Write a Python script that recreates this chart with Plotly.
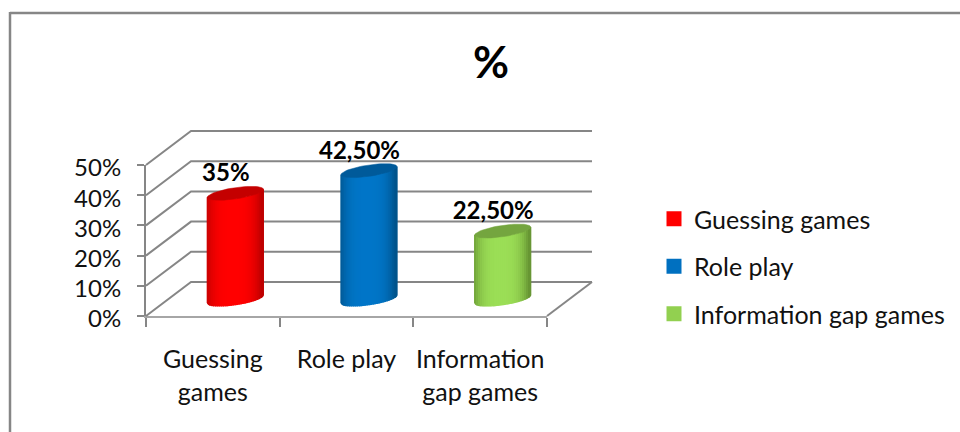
import math
import plotly.graph_objects as go

categories = ["Guessing games", "Role play", "Information gap games"]
category_ticks = ["Guessing<br>games", "Role play", "Information<br>gap games"]
values = [35, 42.5, 22.5]
value_labels = ["35%", "42,50%", "22,50%"]
y_ticks = [0, 10, 20, 30, 40, 50]
y_tick_labels = ["0%", "10%", "20%", "30%", "40%", "50%"]

# edge, centre and lid colours of each cylinder
edge_colors = [(190, 0, 0), (0, 84, 140), (104, 150, 52)]
centre_colors = [(255, 0, 0), (0, 118, 200), (155, 222, 86)]
lid_colors = ["#c40000", "#005a9a", "#74a53f"]
legend_colors = ["#ff0000", "#0070c0", "#92d050"]

W, H = 960, 432
X0, X1, Y0, Y50 = 146, 547, 316, 165
ux = (X1 - X0) / 3
uy = (Y0 - Y50) / 50
DX = 45 / ux         # depth offset in category units
DY = 34 / uy         # depth offset in percent units
A = 28 / ux          # cylinder half width
B = 5.7 / uy         # ellipse half height
T = 4 / uy           # ellipse tilt
GRID = "#868686"

fig = go.Figure()

# visible axes (trace is only there to anchor them)
fig.add_trace(go.Scatter(x=[0.5], y=[0], mode="markers", opacity=0, showlegend=False,
                         hoverinfo="skip", xaxis="x", yaxis="y"))

# walls and floor
gx, gy = [], []
for t in y_ticks:
    gx += [0, DX, 3 + DX, None]
    gy += [t, t + DY, t + DY, None]
gx += [3, 3 + DX, None]
gy += [0, DY, None]
fig.add_trace(go.Scatter(x=gx, y=gy, mode="lines", line=dict(color=GRID, width=2),
                         showlegend=False, hoverinfo="skip", xaxis="x2", yaxis="y2"))


def arc(cx, cy, us):
    return [cx + A * u for u in us], [cy + T * u - B * math.sqrt(max(0, 1 - u * u)) for u in us]


# legend swatches sit hidden behind the cylinders
for i, name in enumerate(categories):
    cx = i + 0.5 + DX / 2
    fig.add_trace(go.Scatter(x=[cx], y=[values[i] / 2 + DY / 2], mode="markers", name=name,
                             legendgroup=name,
                             marker=dict(symbol="square", size=15, color=legend_colors[i]),
                             hoverinfo="skip", xaxis="x2", yaxis="y2"))

# cylinders
N = 28
for i, v in enumerate(values):
    cx = i + 0.5 + DX / 2
    base = DY / 2
    top = base + v
    for k in range(N):
        u0 = -1 + 2 * k / N
        u1 = -1 + 2 * (k + 1) / N
        um = (u0 + u1) / 2
        s = max(0.0, 1 - abs(um + 0.05) ** 3.2)
        c = tuple(round(e + (m - e) * s) for e, m in zip(edge_colors[i], centre_colors[i]))
        col = f"rgb{c}"
        us = [u0 + (u1 - u0) * j / 3 for j in range(4)]
        bx, by = arc(cx, base, us)
        tx, ty = arc(cx, top, us[::-1])
        fig.add_trace(go.Scatter(x=bx + tx + bx[:1], y=by + ty + by[:1], mode="lines", fill="toself",
                                 fillcolor=col, line=dict(color=col, width=1.3),
                                 showlegend=False, hoverinfo="skip", xaxis="x2", yaxis="y2"))
    ang = [2 * math.pi * j / 60 for j in range(61)]
    fig.add_trace(go.Scatter(x=[cx + A * math.cos(a) for a in ang],
                             y=[top + T * math.cos(a) + B * math.sin(a) for a in ang],
                             mode="lines", fill="toself", fillcolor=lid_colors[i],
                             line=dict(color=lid_colors[i], width=0.5),
                             showlegend=False, hoverinfo="skip", xaxis="x2", yaxis="y2"))

# data labels
fig.add_trace(go.Scatter(x=[i + 0.5 + 13 / ux for i in range(3)],
                         y=[v + DY / 2 + 6 / uy for v in values],
                         mode="text", text=value_labels, textposition="top center",
                         textfont=dict(family="Lato", size=24, color="black", weight="bold"),
                         showlegend=False, hoverinfo="skip", xaxis="x2", yaxis="y2"))

axis_font = dict(family="Lato", size=24, color="#111111")
fig.update_layout(
    width=W, height=H, autosize=False,
    margin=dict(l=0, r=0, t=0, b=0, autoexpand=False),
    paper_bgcolor="white", plot_bgcolor="rgba(0,0,0,0)",
    title=dict(text="<b>%</b>", x=491 / W, xanchor="center", y=1 - 63 / H, yanchor="middle",
               font=dict(family="Lato", size=44, color="black")),
    xaxis=dict(domain=[X0 / W, X1 / W], range=[0, 3], tickmode="array",
               tickvals=[0.5, 1.5, 2.5], ticktext=category_ticks, ticks="",
               ticklabelstandoff=20, tickfont=dict(axis_font, size=25), showgrid=False, zeroline=False,
               showline=True, linecolor="#a6a6a6", linewidth=2,
               minor=dict(tickmode="array", tickvals=[0, 1, 2, 3], ticks="outside",
                          ticklen=9, tickwidth=2, tickcolor=GRID, showgrid=False)),
    yaxis=dict(domain=[(H - Y0) / H, (H - Y50) / H], range=[0, 50], tickmode="array",
               tickvals=y_ticks, ticktext=y_tick_labels, ticks="outside", ticklen=7,
               ticklabelstandoff=11, ticklabelshift=3,
               tickwidth=2, tickcolor=GRID, tickfont=axis_font, showgrid=False, zeroline=False,
               showline=True, linecolor=GRID, linewidth=2),
    xaxis2=dict(domain=[0, 1], range=[-X0 / ux, (W - X0) / ux], visible=False, anchor="y2"),
    yaxis2=dict(domain=[0, 1], range=[(Y0 - H) / uy, Y0 / uy], visible=False, anchor="x2"),
    legend=dict(x=654 / W, xanchor="left", y=1 - 196 / H, yanchor="top", traceorder="grouped",
                tracegroupgap=12, font=dict(family="Lato", size=25, color="#111111"),
                bgcolor="rgba(0,0,0,0)", itemsizing="trace"),
    shapes=[
        dict(type="line", xref="paper", yref="paper", x0=10 / W, x1=1, y0=1 - 13 / H, y1=1 - 13 / H,
             line=dict(color=GRID, width=2.5)),
        dict(type="line", xref="paper", yref="paper", x0=10 / W, x1=10 / W, y0=0, y1=1 - 12 / H,
             line=dict(color=GRID, width=2.5)),
    ],
)
fig.write_html("out.html", config={"displayModeBar": False},
               post_script="document.body.style.margin='0';")
